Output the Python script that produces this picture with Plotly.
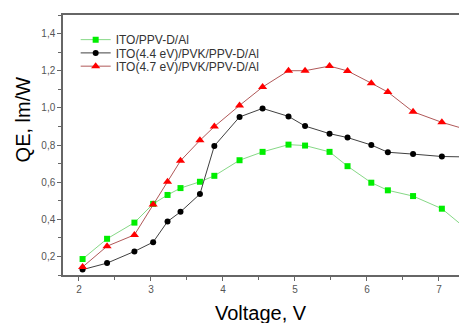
import plotly.graph_objects as go

voltage = [2.05, 2.39, 2.77, 3.03, 3.23, 3.41, 3.68, 3.88, 4.23, 4.55, 4.91, 5.14, 5.48, 5.73, 6.06, 6.29, 6.64, 7.04, 7.5]
qe_ppv = [0.186, 0.295, 0.382, 0.483, 0.531, 0.568, 0.602, 0.634, 0.718, 0.763, 0.802, 0.797, 0.763, 0.686, 0.597, 0.556, 0.525, 0.457, 0.31]
qe_44 = [0.129, 0.164, 0.227, 0.277, 0.388, 0.44, 0.536, 0.795, 0.951, 0.997, 0.954, 0.902, 0.861, 0.84, 0.80, 0.761, 0.751, 0.738, 0.735]
qe_47 = [0.143, 0.255, 0.316, 0.479, 0.602, 0.715, 0.825, 0.899, 1.013, 1.112, 1.20, 1.20, 1.225, 1.199, 1.133, 1.085, 0.979, 0.922, 0.87]

names = ["ITO/PPV-D/Al", "ITO(4.4 eV)/PVK/PPV-D/Al", "ITO(4.7 eV)/PVK/PPV-D/Al"]

FONT = "Liberation Sans, Arial"

fig = go.Figure()
fig.add_trace(go.Scatter(x=voltage, y=qe_ppv, name=names[0], mode="lines+markers", legend="legend",
                         line=dict(color="#86d886", width=1),
                         marker=dict(symbol="square", size=6, color="#00ee00")))
fig.add_trace(go.Scatter(x=voltage, y=qe_44, name=names[1], mode="lines+markers", legend="legend2",
                         line=dict(color="#404040", width=1),
                         marker=dict(symbol="circle", size=6, color="#000000")))
fig.add_trace(go.Scatter(x=voltage, y=qe_47, name=names[2], mode="lines+markers", legend="legend3",
                         line=dict(color="#b05858", width=1),
                         marker=dict(symbol="triangle-up", size=8, color="#ff0000")))

axis_common = dict(showline=True, linecolor="#666666", linewidth=1.5, showgrid=False,
                   zeroline=False, ticks="outside", ticklen=4, tickcolor="#666666",
                   tickfont=dict(family=FONT, size=10, color="#555555"))

def leg(y):
    return dict(x=0.032, y=y, xanchor="left", yanchor="top",
                font=dict(family=FONT, size=12, color="#333333"),
                bgcolor="rgba(0,0,0,0)", itemwidth=30)

fig.update_layout(
    width=459, height=323,
    margin=dict(l=63, r=0, t=15, b=48, autoexpand=False),
    paper_bgcolor="white", plot_bgcolor="white",
    separators=",.",
    showlegend=True,
    legend=leg(0.961), legend2=leg(0.910), legend3=leg(0.859),
    xaxis=dict(range=[1.778, 7.278], dtick=1, tick0=0, mirror=True, automargin=False,
               minor=dict(ticks="outside", ticklen=3, dtick=0.5, tickcolor="#666666"),
               **axis_common),
    yaxis=dict(range=[0.1, 1.5], dtick=0.2, tick0=0, tickformat=".1f", automargin=False,
               minor=dict(ticks="outside", ticklen=3, dtick=0.1, tickcolor="#666666"),
               **axis_common),
    annotations=[
        dict(text="QE, lm/W", xref="paper", yref="paper", x=-0.1, y=0.6,
             textangle=-90, showarrow=False, xanchor="center", yanchor="middle",
             font=dict(family=FONT, size=20, color="#000000")),
        dict(text="Voltage, V", xref="paper", yref="paper", x=0.5, y=-0.145,
             showarrow=False, xanchor="center", yanchor="middle",
             font=dict(family=FONT, size=20, color="#000000")),
    ],
)

fig.write_html("out.html", config={"displayModeBar": False},
               post_script="document.body.style.margin='0';document.body.style.overflow='hidden';")
